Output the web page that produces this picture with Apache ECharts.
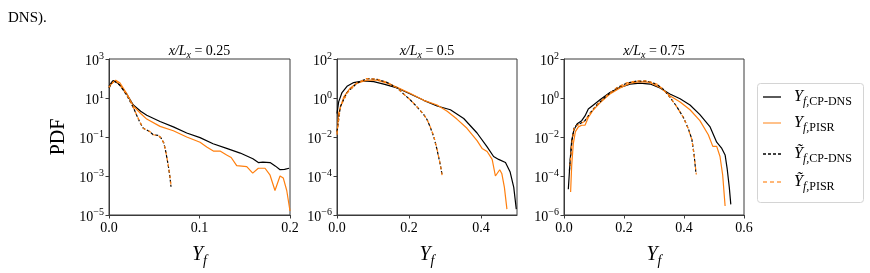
<!DOCTYPE html>
<html><head><meta charset="utf-8">
<script src="https://cdn.jsdelivr.net/npm/echarts@6/dist/echarts.min.js"></script>
<style>html,body{margin:0;padding:0;background:#fff}#c{width:870px;height:273px}</style>
</head><body><div id="c"></div>
<script>
const FONT = '"Liberation Serif","Times New Roman",serif';
const BLACK = '#000000';
const ORANGE = '#ff7f0e';

// ---- panel settings ----
const panelTitles = ['0.25', '0.5', '0.75'];
const xMax = [0.2, 0.5, 0.6];
const xTicks = [[0, 0.1, 0.2], [0, 0.2, 0.4], [0, 0.2, 0.4, 0.6]];
const yMin = [1e-5, 1e-6, 1e-6];
const yMax = [1e3, 1e2, 1e2];

// ---- panel 1 : x/Lx = 0.25 ----
const p1_dns_x  = [0.000, 0.002, 0.0045, 0.008, 0.012, 0.0196, 0.0269, 0.035, 0.0417, 0.0564, 0.0711, 0.0859, 0.1006, 0.115, 0.130, 0.145, 0.159, 0.165, 0.170, 0.178, 0.184, 0.189, 0.194, 0.199];
const p1_dns_y  = [40, 56, 79, 66, 47, 16, 4.4, 2.1, 1.3, 0.62, 0.33, 0.16, 0.093, 0.045, 0.026, 0.015, 0.0076, 0.0049, 0.0052, 0.0049, 0.0032, 0.0021, 0.0022, 0.0025];
const p1_pisr_x = [0.000, 0.003, 0.0074, 0.012, 0.0196, 0.0269, 0.035, 0.0417, 0.0564, 0.0711, 0.0859, 0.1006, 0.108, 0.1153, 0.1227, 0.130, 0.135, 0.1411, 0.1522, 0.1588, 0.165, 0.1724, 0.178, 0.1834, 0.189, 0.1926, 0.1964, 0.2];
const p1_pisr_y = [35, 56, 81, 60, 17, 3.9, 1.6, 0.83, 0.35, 0.21, 0.10, 0.054, 0.031, 0.019, 0.019, 0.012, 0.0089, 0.0034, 0.0030, 0.0014, 0.0025, 0.0025, 0.0011, 0.00018, 0.0010, 0.00078, 0.00018, 0.000016];
const p1_dnsF_x  = [0.000, 0.0045, 0.008, 0.012, 0.0196, 0.0269, 0.034, 0.0379, 0.0416, 0.045, 0.049, 0.0545, 0.0575, 0.0605, 0.0625, 0.0655, 0.0672, 0.0685];
const p1_dnsF_y  = [32, 79, 63, 45, 14, 3.2, 0.58, 0.28, 0.23, 0.19, 0.13, 0.12, 0.089, 0.050, 0.020, 0.0035, 0.0010, 0.00028];
const p1_pisrF_x = [0.000, 0.006, 0.009, 0.012, 0.0196, 0.0269, 0.034, 0.0379, 0.0416, 0.045, 0.049, 0.0545, 0.0575, 0.0605, 0.0625, 0.0655, 0.0672, 0.0688];
const p1_pisrF_y = [35, 80, 66, 47, 15, 3.3, 0.60, 0.28, 0.23, 0.19, 0.13, 0.12, 0.090, 0.050, 0.021, 0.0036, 0.0011, 0.00026];

// ---- panel 2 : x/Lx = 0.5 ----
const p2_dns_x  = [0.000, 0.0046, 0.0139, 0.0278, 0.0463, 0.074, 0.102, 0.130, 0.167, 0.204, 0.241, 0.278, 0.315, 0.352, 0.389, 0.417, 0.435, 0.449, 0.468, 0.481, 0.491, 0.498];
const p2_dns_y  = [0.16, 0.63, 1.9, 4.0, 6.2, 7.6, 6.9, 5.1, 3.3, 1.6, 0.76, 0.39, 0.25, 0.089, 0.016, 0.0031, 0.0010, 0.00071, 0.00049, 0.00016, 0.000026, 0.000002];
const p2_pisr_x = [0.000, 0.0046, 0.0185, 0.037, 0.0556, 0.0833, 0.111, 0.139, 0.167, 0.204, 0.241, 0.278, 0.306, 0.333, 0.361, 0.389, 0.403, 0.417, 0.431, 0.440, 0.452, 0.458, 0.465, 0.472];
const p2_pisr_y = [0.013, 0.17, 1.1, 3.3, 5.8, 8.3, 8.3, 5.8, 3.5, 1.7, 0.76, 0.44, 0.21, 0.083, 0.028, 0.0065, 0.0026, 0.0018, 0.00071, 0.0001, 0.00021, 0.00013, 0.000026, 0.000002];
const p2_dnsF_x  = [0.000, 0.0093, 0.0278, 0.0556, 0.0833, 0.111, 0.139, 0.167, 0.185, 0.204, 0.222, 0.241, 0.250, 0.259, 0.269, 0.278, 0.287, 0.292];
const p2_dnsF_y  = [0.019, 0.36, 1.9, 5.8, 10, 9.1, 6.3, 3.3, 1.6, 0.79, 0.35, 0.14, 0.079, 0.032, 0.010, 0.0022, 0.00037, 0.00011];
const p2_pisrF_x = [0.000, 0.0093, 0.0278, 0.0556, 0.0833, 0.111, 0.139, 0.167, 0.185, 0.204, 0.222, 0.241, 0.250, 0.259, 0.269, 0.278, 0.287, 0.292];
const p2_pisrF_y = [0.017, 0.34, 1.8, 5.9, 10, 9.3, 6.4, 3.3, 1.6, 0.80, 0.36, 0.14, 0.080, 0.033, 0.011, 0.0023, 0.00038, 0.00011];

// ---- panel 3 : x/Lx = 0.75 ----
const p3_dns_x  = [0.0144, 0.020, 0.0256, 0.033, 0.044, 0.059, 0.070, 0.081, 0.098, 0.120, 0.153, 0.187, 0.220, 0.253, 0.287, 0.320, 0.353, 0.387, 0.420, 0.453, 0.487, 0.509, 0.526, 0.537, 0.544, 0.551, 0.556];
const p3_dns_y  = [2.1e-5, 4.9e-4, 6.5e-3, 0.023, 0.048, 0.069, 0.12, 0.27, 0.44, 0.81, 1.9, 3.5, 5.1, 5.8, 5.2, 3.3, 1.6, 0.91, 0.44, 0.14, 0.033, 0.0054, 0.0026, 0.0012, 0.00023, 0.000026, 0.0000035];
const p3_pisr_x = [0.022, 0.0256, 0.031, 0.038, 0.048, 0.059, 0.070, 0.081, 0.098, 0.120, 0.153, 0.187, 0.220, 0.253, 0.287, 0.320, 0.353, 0.387, 0.420, 0.453, 0.481, 0.496, 0.509, 0.520, 0.529, 0.537];
const p3_pisr_y = [1.5e-5, 3.4e-4, 4.5e-3, 0.019, 0.033, 0.04, 0.04, 0.1, 0.25, 0.56, 1.6, 3.3, 5.8, 6.9, 6.3, 3.5, 1.3, 0.63, 0.25, 0.069, 0.013, 0.0033, 0.0033, 0.001, 0.00011, 0.0000029];
const p3_dnsF_x  = [0.018, 0.0256, 0.033, 0.042, 0.053, 0.070, 0.087, 0.109, 0.142, 0.176, 0.209, 0.242, 0.276, 0.309, 0.331, 0.353, 0.376, 0.398, 0.414, 0.426, 0.433, 0.440];
const p3_dnsF_y  = [1.9e-4, 4.5e-3, 0.028, 0.04, 0.048, 0.069, 0.17, 0.44, 1.3, 3.3, 5.8, 7.4, 7.4, 5.1, 2.8, 1.1, 0.36, 0.1, 0.028, 0.0078, 0.0015, 0.00013];
const p3_pisrF_x = [0.020, 0.0256, 0.033, 0.042, 0.053, 0.070, 0.087, 0.109, 0.142, 0.176, 0.209, 0.242, 0.276, 0.309, 0.331, 0.353, 0.376, 0.398, 0.414, 0.426, 0.433, 0.441];
const p3_pisrF_y = [3.4e-4, 4.0e-3, 0.026, 0.038, 0.046, 0.066, 0.16, 0.42, 1.3, 3.4, 6.0, 7.6, 7.5, 5.2, 2.8, 1.1, 0.35, 0.1, 0.027, 0.0075, 0.0014, 0.00012];

const zip = (xs, ys) => xs.map((x, i) => [x, ys[i]]);
const curves = [
  [p1_dns_x, p1_dns_y, p1_pisr_x, p1_pisr_y, p1_dnsF_x, p1_dnsF_y, p1_pisrF_x, p1_pisrF_y],
  [p2_dns_x, p2_dns_y, p2_pisr_x, p2_pisr_y, p2_dnsF_x, p2_dnsF_y, p2_pisrF_x, p2_pisrF_y],
  [p3_dns_x, p3_dns_y, p3_pisr_x, p3_pisr_y, p3_dnsF_x, p3_dnsF_y, p3_pisrF_x, p3_pisrF_y]
];

const gridLeft = [109, 337, 564];
const gridWidth = [181, 180, 180];
const AX = '#3a3a3a';

const grids = [], xAxes = [], yAxes = [], series = [], graphics = [];
const supRich = {
  b: {fontFamily: FONT, fontSize: 14, lineHeight: 20, color: '#000'},
  s: {fontFamily: FONT, fontSize: 10, lineHeight: 10, verticalAlign: 'top', color: '#000'}
};
const yfRich = {
  i: {fontFamily: FONT, fontStyle: 'italic', fontSize: 20, lineHeight: 26, color: '#000'},
  s: {fontFamily: FONT, fontStyle: 'italic', fontSize: 14, lineHeight: 14, verticalAlign: 'bottom', color: '#000'}
};

for (let p = 0; p < 3; p++) {
  grids.push({left: gridLeft[p], top: 59, width: gridWidth[p], height: 167, show: true,
    borderColor: AX, borderWidth: 1, backgroundColor: 'transparent'});
  xAxes.push({
    gridIndex: p, type: 'value', min: 0, max: xMax[p],
    axisLine: {show: true, lineStyle: {color: AX, width: 1}},
    axisTick: {show: true, length: 3.5, customValues: xTicks[p], lineStyle: {color: AX}},
    axisLabel: {customValues: xTicks[p], formatter: v => v.toFixed(1), fontFamily: FONT, fontSize: 14, color: '#000', margin: 6},
    splitLine: {show: false},
    name: '{i|Y}{s|f}', nameLocation: 'middle', nameGap: 27,
    nameTextStyle: {rich: yfRich}
  });
  yAxes.push({
    gridIndex: p, type: 'log', logBase: 10, min: yMin[p], max: yMax[p], interval: 2,
    axisLine: {show: true, lineStyle: {color: AX, width: 1}},
    axisTick: {show: true, length: 3.5, lineStyle: {color: AX}},
    minorTick: {show: false},
    axisLabel: {
      fontFamily: FONT, margin: 5, padding: [5, 0, 0, 0],
      formatter: v => { const e = Math.round(Math.log10(v)); return '{b|10}{s|' + (e < 0 ? '\u2212' + (-e) : e) + '}'; },
      rich: supRich
    },
    splitLine: {show: false},
    name: p === 0 ? 'PDF' : '', nameLocation: 'middle', nameGap: 40,
    nameTextStyle: {fontFamily: FONT, fontSize: 20, color: '#000'}
  });
  const c = curves[p];
  const styles = [
    {color: BLACK, type: 'solid'},
    {color: ORANGE, type: 'solid'},
    {color: BLACK, type: [3, 2]},
    {color: ORANGE, type: [3, 3], dashOffset: 1}
  ];
  for (let k = 0; k < 4; k++) {
    series.push({
      type: 'line', xAxisIndex: p, yAxisIndex: p, data: zip(c[2 * k], c[2 * k + 1]),
      showSymbol: false, symbol: 'none', smooth: false, z: 2 + k,
      lineStyle: Object.assign({width: 1.2}, styles[k])
    });
  }
  graphics.push({
    type: 'text', x: gridLeft[p] + gridWidth[p] / 2, y: 51,
    style: {
      text: '{i|x/L}{si|x}{n| = ' + panelTitles[p] + '}',
      align: 'center', verticalAlign: 'middle',
      rich: {
        i: {fontFamily: FONT, fontStyle: 'italic', fontSize: 14, lineHeight: 18, fill: '#000'},
        si: {fontFamily: FONT, fontStyle: 'italic', fontSize: 10, lineHeight: 10, verticalAlign: 'bottom', fill: '#000'},
        n: {fontFamily: FONT, fontSize: 14, lineHeight: 18, fill: '#000'}
      }
    }
  });
}

// top text fragment
graphics.push({type: 'text', x: 8, y: 18, style: {text: 'DNS).', fontFamily: FONT, fontSize: 15, fill: '#000', verticalAlign: 'middle'}});

// legend box
const legRich = {
  i: {fontFamily: FONT, fontStyle: 'italic', fontSize: 16, lineHeight: 22, fill: '#000'},
  si: {fontFamily: FONT, fontStyle: 'italic', fontSize: 12, lineHeight: 12, verticalAlign: 'bottom', fill: '#000'},
  s: {fontFamily: FONT, fontSize: 12, lineHeight: 12, verticalAlign: 'bottom', fill: '#000'}
};
graphics.push({type: 'rect', shape: {x: 757.5, y: 83.5, width: 106, height: 119, r: 3}, style: {fill: '#fff', stroke: '#d4d4d4', lineWidth: 1}, z: 10});
const legendY = [97, 123, 154, 182];
const legendText = ['{i|Y}{si|f,}{s|CP-DNS}', '{i|Y}{si|f,}{s|PISR}', '{i|\u1EF8}{si|f,}{s|CP-DNS}', '{i|\u1EF8}{si|f,}{s|PISR}'];
const legendStyle = [
  {stroke: BLACK, lineDash: null, opacity: 1},
  {stroke: ORANGE, lineDash: null, opacity: 0.75},
  {stroke: BLACK, lineDash: [3, 2], opacity: 1},
  {stroke: ORANGE, lineDash: [4, 3], opacity: 0.75}
];
for (let k = 0; k < 4; k++) {
  graphics.push({type: 'line', shape: {x1: 763, y1: legendY[k], x2: 781, y2: legendY[k]},
    style: {stroke: legendStyle[k].stroke, lineWidth: 1.3, lineDash: legendStyle[k].lineDash, opacity: legendStyle[k].opacity}, z: 11});
  graphics.push({type: 'text', x: 794, y: legendY[k], z: 11,
    style: {text: legendText[k], verticalAlign: 'middle', align: 'left', rich: legRich}});
}

const chart = echarts.init(document.getElementById('c'), null, {renderer: 'canvas'});
chart.setOption({
  animation: false,
  backgroundColor: '#fff',
  textStyle: {fontFamily: FONT},
  grid: grids, xAxis: xAxes, yAxis: yAxes, series: series, graphic: graphics
});
</script></body></html>
